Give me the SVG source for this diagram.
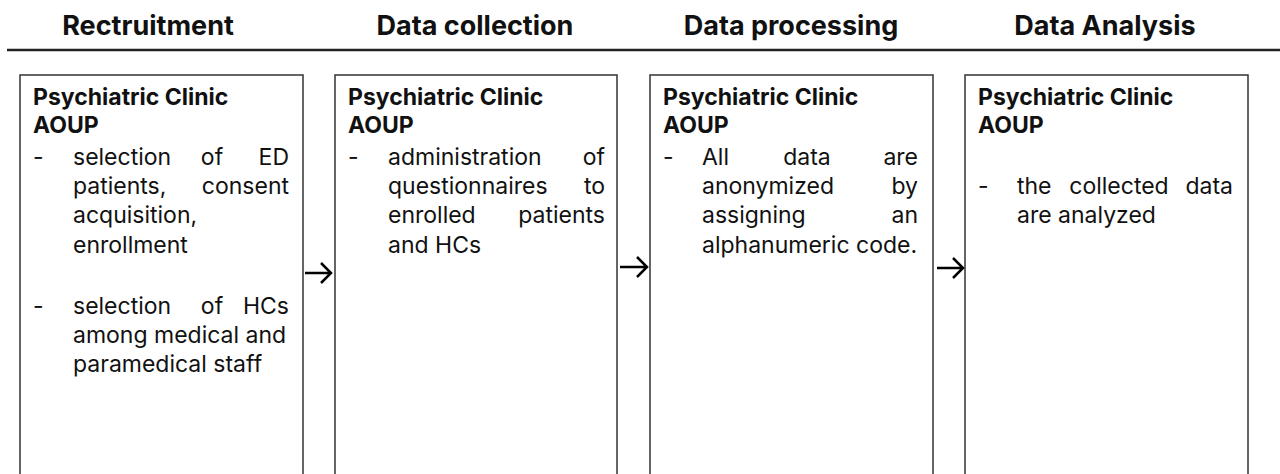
<svg xmlns="http://www.w3.org/2000/svg" width="1280" height="474" viewBox="0 0 1280 474">
  <style>
    .hdr { font-family: Inter, "Liberation Sans", sans-serif; font-weight: 700; font-size: 27px; fill: #111; text-anchor: middle; }
    .ttl { font-family: Inter, "Liberation Sans", sans-serif; font-weight: 700; font-size: 23px; fill: #111; }
    .txt { font-family: Inter, "Liberation Sans", sans-serif; font-weight: 400; font-size: 23px; fill: #111; }
    .end { text-anchor: end; }
    .mid { text-anchor: middle; }
    .box { fill: #fff; stroke: #333; stroke-width: 1.5; }
    .rule { stroke: #222; stroke-width: 2.5; }
    .arrow { fill: none; stroke: #000; stroke-width: 2.5; }
  </style>
  <rect width="1280" height="474" fill="#fff"/>

  <!-- phase headers and divider -->
  <g id="headers">
    <text class="hdr" x="148" y="35">Rectruitment</text>
    <text class="hdr" x="475" y="35">Data collection</text>
    <text class="hdr" x="791" y="35">Data processing</text>
    <text class="hdr" x="1105" y="35">Data Analysis</text>
    <line class="rule" x1="7" y1="50" x2="1280" y2="50"/>
  </g>

  <!-- Recruitment -->
  <g id="recruitment">
    <rect class="box" x="20" y="75" width="283" height="420"/>
    <text class="ttl" x="33" y="105">Psychiatric Clinic</text>
    <text class="ttl" x="33" y="133">AOUP</text>
    <text class="txt" x="33" y="165">-</text>
    <text class="txt" x="73" y="165">selection</text>
    <text class="txt mid" x="212" y="165">of</text>
    <text class="txt end" x="289" y="165">ED</text>
    <text class="txt" x="73" y="194">patients,</text>
    <text class="txt end" x="289" y="194">consent</text>
    <text class="txt" x="73" y="223">acquisition,</text>
    <text class="txt" x="73" y="253">enrollment</text>
    <text class="txt" x="33" y="314">-</text>
    <text class="txt" x="73" y="314">selection</text>
    <text class="txt mid" x="212" y="314">of</text>
    <text class="txt end" x="289" y="314">HCs</text>
    <text class="txt" x="73" y="343">among medical and</text>
    <text class="txt" x="73" y="372">paramedical staff</text>
  </g>

  <!-- Data collection -->
  <g id="data-collection">
    <rect class="box" x="335" y="75" width="282" height="420"/>
    <text class="ttl" x="348" y="105">Psychiatric Clinic</text>
    <text class="ttl" x="348" y="133">AOUP</text>
    <text class="txt" x="348" y="165">-</text>
    <text class="txt" x="388" y="165">administration</text>
    <text class="txt end" x="605" y="165">of</text>
    <text class="txt" x="388" y="194">questionnaires</text>
    <text class="txt end" x="605" y="194">to</text>
    <text class="txt" x="388" y="223">enrolled</text>
    <text class="txt end" x="605" y="223">patients</text>
    <text class="txt" x="388" y="253">and HCs</text>
  </g>

  <!-- Data processing -->
  <g id="data-processing">
    <rect class="box" x="650" y="75" width="283" height="420"/>
    <text class="ttl" x="663" y="105">Psychiatric Clinic</text>
    <text class="ttl" x="663" y="133">AOUP</text>
    <text class="txt" x="663" y="165">-</text>
    <text class="txt" x="702" y="165">All</text>
    <text class="txt mid" x="807" y="165">data</text>
    <text class="txt end" x="918" y="165">are</text>
    <text class="txt" x="702" y="194">anonymized</text>
    <text class="txt end" x="918" y="194">by</text>
    <text class="txt" x="702" y="223">assigning</text>
    <text class="txt end" x="918" y="223">an</text>
    <text class="txt" x="702" y="253">alphanumeric code.</text>
  </g>

  <!-- Data analysis -->
  <g id="data-analysis">
    <rect class="box" x="965" y="75" width="283" height="420"/>
    <text class="ttl" x="978" y="105">Psychiatric Clinic</text>
    <text class="ttl" x="978" y="133">AOUP</text>
    <text class="txt" x="978" y="194">-</text>
    <text class="txt" x="1017" y="194">the</text>
    <text class="txt mid" x="1119" y="194">collected</text>
    <text class="txt end" x="1233" y="194">data</text>
    <text class="txt" x="1017" y="223">are analyzed</text>
  </g>

  <!-- connectors between phases -->
  <g id="connectors">
    <path class="arrow" d="M305 273 H331 M321 263 L331 273 L321 283"/>
    <path class="arrow" d="M620 267 H647 M637 257 L647 267 L637 277"/>
    <path class="arrow" d="M937 268 H963 M953 258 L963 268 L953 278"/>
  </g>
</svg>
